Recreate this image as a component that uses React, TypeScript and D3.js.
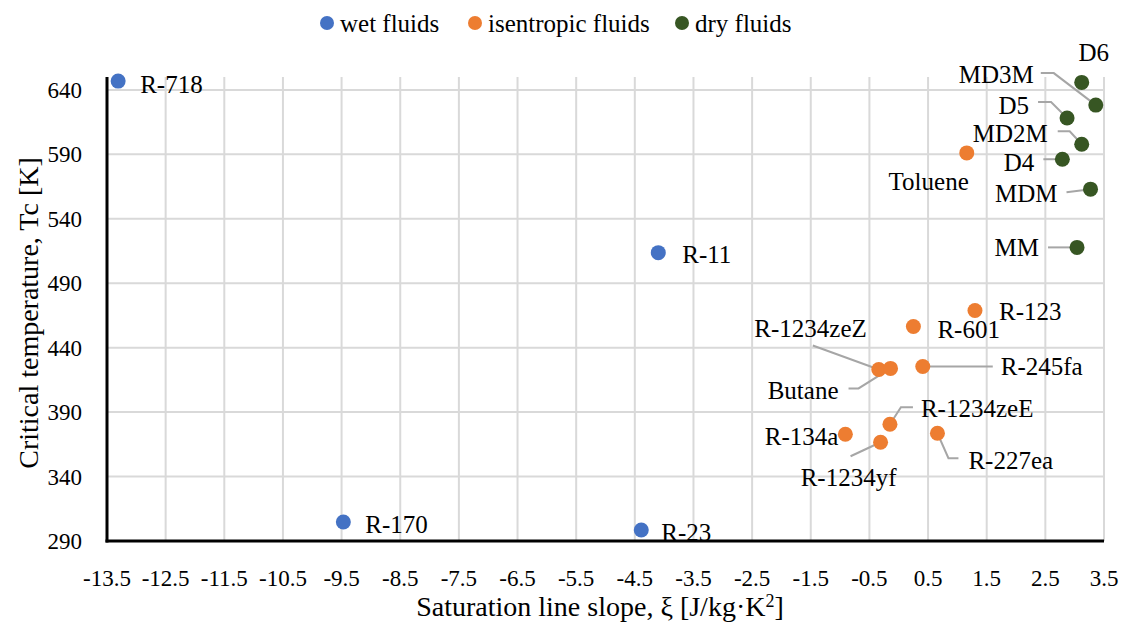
import React from 'react';
import * as d3 from 'd3';

// fluids
const names = ['R-718', 'R-11', 'R-170', 'R-23', 'Toluene', 'R-123', 'R-601', 'R-245fa', 'R-1234zeZ', 'Butane',
  'R-1234zeE', 'R-134a', 'R-1234yf', 'R-227ea', 'D6', 'MD3M', 'D5', 'MD2M', 'D4', 'MDM', 'MM'];
const xi = [-13.31, -4.1, -9.47, -4.39, 1.16, 1.3, 0.25, 0.41, -0.34, -0.14,
  -0.15, -0.91, -0.31, 0.66, 3.12, 3.36, 2.87, 3.12, 2.79, 3.27, 3.04];
const tc = [646.8, 513.7, 304.7, 298.5, 591.1, 468.8, 456.4, 425.4, 423.1, 423.9,
  380.6, 372.8, 366.6, 373.6, 645.8, 628.2, 618.2, 597.8, 586.2, 563.0, 517.8];
const groups = ['wet', 'wet', 'wet', 'wet', 'isentropic', 'isentropic', 'isentropic', 'isentropic', 'isentropic', 'isentropic',
  'isentropic', 'isentropic', 'isentropic', 'isentropic', 'dry', 'dry', 'dry', 'dry', 'dry', 'dry', 'dry'];

const seriesKeys = ['wet', 'isentropic', 'dry'];
const seriesNames = ['wet fluids', 'isentropic fluids', 'dry fluids'];
const xTicks = [-13.5, -12.5, -11.5, -10.5, -9.5, -8.5, -7.5, -6.5, -5.5, -4.5, -3.5, -2.5, -1.5, -0.5, 0.5, 1.5, 2.5, 3.5];
const yTicks = [290, 340, 390, 440, 490, 540, 590, 640];

const colors: Record<string, string> = { wet: '#4472C4', isentropic: '#ED7D31', dry: '#375623' };
const font = "'Liberation Serif', 'DejaVu Serif', serif";

// label placement relative to the point: [dx, dy, anchor, leader path offsets]
const labelPos: Record<string, [number, number, string, number[][]?]> = {
  'R-718': [22, 3, 'start'],
  'R-11': [24, 2, 'start'],
  'R-170': [22, 2, 'start'],
  'R-23': [20, 2, 'start'],
  'Toluene': [2, 28, 'end'],
  'R-123': [24, 1, 'start'],
  'R-601': [24, 3, 'start'],
  'R-245fa': [78, 0, 'start', [[0, 0], [70, 0]]],
  'R-1234zeZ': [-12, -41, 'end', [[-66, -24], [0, 0]]],
  'Butane': [-52, 22, 'end', [[-42, 20], [-32, 20], [0, 0]]],
  'R-1234zeE': [31, -16, 'start', [[23, -17], [11, -17], [0, 0]]],
  'R-134a': [-7, 2, 'end'],
  'R-1234yf': [-32, 35, 'middle', [[-30, 14], [0, 0]]],
  'R-227ea': [31, 27, 'start', [[0, 0], [11, 25], [21, 25]]],
  'D6': [12, -30, 'middle'],
  'MD3M': [-62, -31, 'end', [[-55, -32], [-42, -32], [0, 0]]],
  'D5': [-38, -13, 'end', [[-29, -16], [-16, -16], [0, 0]]],
  'MD2M': [-34, -11, 'end', [[-24, -13], [-12, -13], [0, 0]]],
  'D4': [-28, 3, 'end', [[-19, 0], [0, 0]]],
  'MDM': [-33, 4, 'end', [[-24, 3], [0, 0]]],
  'MM': [-38, 0, 'end', [[-29, 0], [0, 0]]],
};

const width = 1132;
const height = 635;
const left = 107, right = 1104, top = 77, bottom = 541;

export default function App() {
  const x = d3.scaleLinear().domain([-13.5, 3.5]).range([left, right]);
  const y = d3.scaleLinear().domain([290, 650]).range([bottom, top]);
  const line = d3.line();

  const points = names.map((n, i) => ({ name: n, px: x(xi[i]), py: y(tc[i]), group: groups[i] }));

  return (
    <svg width={width} height={height} style={{ position: 'absolute', left: 0, top: 0, background: '#fff', fontFamily: font }}>
      {/* legend */}
      {seriesKeys.map((k, i) => {
        const lx = [327, 475, 682][i];
        return (
          <g key={k}>
            <circle cx={lx} cy={23} r={7} fill={colors[k]} />
            <text x={lx + 13} y={23} dy="0.35em" fontSize={25} fill="#000" style={{ fontFamily: font }}>{seriesNames[i]}</text>
          </g>
        );
      })}

      {/* gridlines */}
      {yTicks.slice(1).map(t => (
        <line key={'gy' + t} x1={left} x2={right} y1={y(t)} y2={y(t)} stroke="#d9d9d9" strokeWidth={2} />
      ))}
      {xTicks.slice(1).map(t => (
        <line key={'gx' + t} x1={x(t)} x2={x(t)} y1={top} y2={bottom} stroke="#d9d9d9" strokeWidth={2} />
      ))}

      {/* axes */}
      <line x1={left} x2={left} y1={top} y2={bottom + 1.5} stroke="#000" strokeWidth={3} />
      <line x1={left - 1.5} x2={right} y1={bottom} y2={bottom} stroke="#000" strokeWidth={3} />

      {yTicks.map(t => (
        <text key={'ty' + t} x={left - 25} y={y(t)} dy="0.35em" textAnchor="end" fontSize={23} style={{ fontFamily: font }}>{t}</text>
      ))}
      {xTicks.map(t => (
        <text key={'tx' + t} x={x(t)} y={578} dy="0.35em" textAnchor="middle" fontSize={23} style={{ fontFamily: font }}>{t.toFixed(1)}</text>
      ))}

      <text x={600} y={606} dy="0.35em" textAnchor="middle" fontSize={28} style={{ fontFamily: font }}>
        Saturation line slope, ξ [J/kg·K<tspan dy="-9" fontSize={18}>2</tspan><tspan dy="9">]</tspan>
      </text>
      <text transform={`translate(28, 313) rotate(-90)`} dy="0.35em" textAnchor="middle" fontSize={28} style={{ fontFamily: font }}>
        Critical temperature, Tc [K]
      </text>

      {/* leader lines */}
      {points.map(p => {
        const lp = labelPos[p.name];
        if (!lp || !lp[3]) return null;
        return (
          <path key={'l' + p.name} d={line(lp[3].map(o => [p.px + o[0], p.py + o[1]] as [number, number])) || ''}
            fill="none" stroke="#a6a6a6" strokeWidth={2} />
        );
      })}

      {/* points */}
      {points.map(p => (
        <circle key={'c' + p.name} cx={p.px} cy={p.py} r={7.5} fill={colors[p.group]} />
      ))}

      {/* labels */}
      {points.map(p => {
        const lp = labelPos[p.name];
        return (
          <text key={'t' + p.name} x={p.px + lp[0]} y={p.py + lp[1]} dy="0.35em" textAnchor={lp[2]} fontSize={25}
            style={{ fontFamily: font }}>
            {p.name}
          </text>
        );
      })}
    </svg>
  );
}
